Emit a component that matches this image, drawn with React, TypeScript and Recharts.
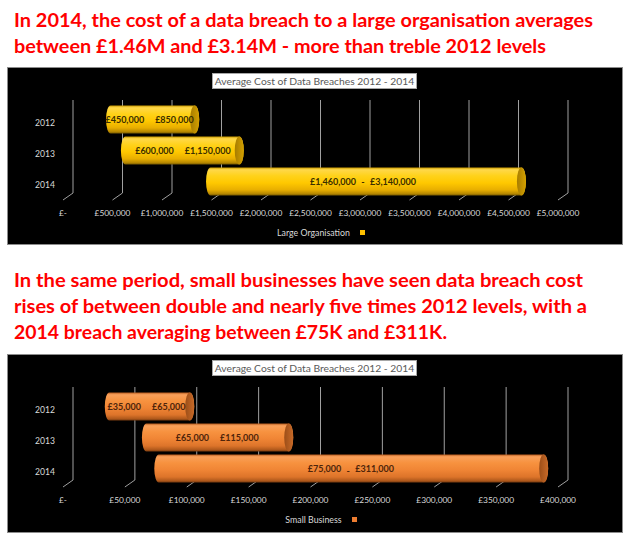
import React from 'react';
import { BarChart, Bar, XAxis, YAxis, CartesianGrid, Legend } from 'recharts';

// ---------- data ----------
const years = ['2012', '2013', '2014'];

const largeFrom = [450000, 600000, 1460000];
const largeSpan = [850000, 1150000, 3140000];
const largeTicks = [0, 500000, 1000000, 1500000, 2000000, 2500000, 3000000, 3500000, 4000000, 4500000, 5000000];

const smallFrom = [35000, 65000, 75000];
const smallSpan = [65000, 115000, 311000];
const smallTicks = [0, 50000, 100000, 150000, 200000, 250000, 300000, 350000, 400000];

const separators = ['', '', '-'];

const chartTitle = 'Average Cost of Data Breaches 2012 - 2014';
const largeName = 'Large Organisation';
const smallName = 'Small Business';

const headline1 = [
  'In 2014, the cost of a data breach to a large organisation averages',
  'between £1.46M and £3.14M - more than treble 2012 levels',
];
const headline2 = [
  'In the same period, small businesses have seen data breach cost',
  'rises of between double and nearly five times 2012 levels, with a',
  '2014 breach averaging between £75K and £311K.',
];

// ---------- helpers ----------
const fmt = (v: number) => (v === 0 ? '£-' : '£' + String(v).replace(/\B(?=(\d{3})+(?!\d))/g, ','));

const FONT = 'Lato, "Open Sans", sans-serif';

type Palette = {
  id: string;
  body: [number, string][];
  cap: [string, string];
  label: string;
  legend: string;
};

const gold: Palette = {
  id: 'gold',
  body: [
    [0, '#C99A00'],
    [0.08, '#FFD84A'],
    [0.3, '#FFD21A'],
    [0.55, '#FFC800'],
    [0.8, '#E8AE00'],
    [0.93, '#B88900'],
    [1, '#7A5B00'],
  ],
  cap: ['#A67C00', '#D4A000'],
  label: '#3A2E00',
  legend: '#FFC000',
};

const orange: Palette = {
  id: 'orange',
  body: [
    [0, '#B85C1E'],
    [0.08, '#F9A05A'],
    [0.3, '#F7923F'],
    [0.55, '#F08535'],
    [0.8, '#DD742A'],
    [0.93, '#B25A1C'],
    [1, '#7A3C10'],
  ],
  cap: ['#9C4E18', '#C86A28'],
  label: '#4E240A',
  legend: '#ED7D31',
};

const makeCylinder = (p: Palette, sepDy: number) => (props: any) => {
  const { x, y, width, height, payload } = props;
  if (width == null || width <= 0) return <g />;
  const rx = 4.5;
  const ry = height / 2;
  const x1 = x + width;
  const d = `M${x},${y} L${x1},${y} A${rx},${ry} 0 0 1 ${x1},${y + height} L${x},${y + height} A${rx},${ry} 0 0 1 ${x},${y} Z`;
  const gc = x + width / 2 - 3;
  const by = y + ry + 3.5;
  const gap = payload.sep ? 14 : 11;
  const tStyle = { fontFamily: FONT, fontSize: 9, fontWeight: 700, fill: p.label } as const;
  return (
    <g>
      <path d={d} fill={`url(#${p.id}-body)`} />
      <ellipse cx={x1} cy={y + ry} rx={rx} ry={ry} fill={`url(#${p.id}-cap)`} />
      <text x={gc - gap / 2} y={by} textAnchor="end" style={tStyle}>
        {fmt(payload.from)}
      </text>
      {payload.sep ? (
        <text x={gc} y={by + sepDy} textAnchor="middle" style={tStyle}>
          {payload.sep}
        </text>
      ) : null}
      <text x={gc + gap / 2} y={by} textAnchor="start" style={tStyle}>
        {fmt(payload.span)}
      </text>
    </g>
  );
};

const renderGridLine = (props: any) => {
  const { x1, y1, y2, key } = props;
  const back = x1 + 7;
  const front = x1 - 3;
  return (
    <g key={key}>
      <line x1={back} y1={y1 - 3.5} x2={back} y2={y2 - 3.5} stroke="#A0A0A0" strokeWidth={1} />
      <line x1={back} y1={y2 - 3.5} x2={front} y2={y2 + 3.5} stroke="#A0A0A0" strokeWidth={1} />
    </g>
  );
};

const XTick = (props: any) => {
  const { x, y, payload } = props;
  return (
    <text x={x - 3} y={y + 11} textAnchor="middle" style={{ fontFamily: FONT, fontSize: 8.4, fill: '#D9D9D9' }}>
      {fmt(payload.value)}
    </text>
  );
};

const YTick = (props: any) => {
  const { x, y, payload } = props;
  return (
    <text x={x - 3} y={y + 7} textAnchor="end" style={{ fontFamily: FONT, fontSize: 8.6, fill: '#D9D9D9' }}>
      {payload.value}
    </text>
  );
};

type PanelProps = {
  top: number;
  height: number;
  from: number[];
  span: number[];
  ticks: number[];
  palette: Palette;
  name: string;
  sepDy: number;
};

const W = 616;

function Panel({ top, height, from, span, ticks, palette, name, sepDy }: PanelProps) {
  const rows = years.map((year, i) => ({ year, from: from[i], span: span[i], sep: separators[i] }));
  const max = ticks[ticks.length - 1];
  return (
    <div
      style={{
        position: 'absolute',
        left: 7,
        top,
        width: W,
        height,
        background: '#000',
        outline: '1px solid #8C8C8C',
        outlineOffset: -1,
      }}
    >
      <BarChart
        width={W}
        height={height}
        data={rows}
        layout="vertical"
        margin={{ top: 36.5, right: 62, bottom: height - 129.5 - 30, left: 0 }}
        barSize={28}
      >
        <defs>
          <linearGradient id={`${palette.id}-body`} x1="0" y1="0" x2="0" y2="1">
            {palette.body.map(([o, c]) => (
              <stop key={o} offset={o} stopColor={c} />
            ))}
          </linearGradient>
          <linearGradient id={`${palette.id}-cap`} x1="0" y1="0" x2="1" y2="0">
            <stop offset={0} stopColor={palette.cap[0]} />
            <stop offset={1} stopColor={palette.cap[1]} />
          </linearGradient>
        </defs>
        <CartesianGrid horizontal={false} vertical={renderGridLine} />
        <XAxis
          type="number"
          domain={[0, max]}
          ticks={ticks}
          interval={0}
          axisLine={false}
          tickLine={false}
          height={30}
          tick={XTick}
        />
        <YAxis
          type="category"
          dataKey="year"
          width={59}
          axisLine={false}
          tickLine={false}
          interval={0}
          tick={YTick}
        />
        <Legend
          layout="horizontal"
          verticalAlign="middle"
          align="center"
          wrapperStyle={{ top: 158, left: 0, width: 628, height: 14 }}
          content={() => (
            <div
              style={{
                display: 'flex',
                justifyContent: 'center',
                alignItems: 'center',
                height: 14,
                fontFamily: FONT,
                fontSize: 8.8,
                color: '#D9D9D9',
              }}
            >
              <span>{name}</span>
              <span style={{ display: 'inline-block', width: 5, height: 5, marginLeft: 10, background: palette.legend }} />
            </div>
          )}
        />
        <Bar dataKey="from" stackId="a" fill="none" isAnimationActive={false} legendType="none" />
        <Bar
          dataKey="span"
          stackId="a"
          name={name}
          fill={palette.legend}
          isAnimationActive={false}
          shape={makeCylinder(palette, sepDy)}
        />
      </BarChart>
      <div
        style={{
          position: 'absolute',
          left: 205,
          top: 6,
          width: 205,
          height: 16,
          background: '#fff',
          outline: '1px solid #A6A6A6',
          outlineOffset: -1,
          fontFamily: FONT,
          fontSize: 10.3,
          lineHeight: '16px',
          color: '#595959',
          textAlign: 'center',
          whiteSpace: 'nowrap',
        }}
      >
        {chartTitle}
      </div>
    </div>
  );
}

const headStyle = { fontFamily: FONT, fontSize: 19.5, fontWeight: 700, fill: '#FF0000' } as const;

export default function App() {
  const h1Widths = [579, 532];
  const h1Base = [27, 53];
  const h2Widths = [569, 573, 433];
  const h2Base = [287, 313, 339];
  return (
    <div style={{ position: 'absolute', left: 0, top: 0, width: 624, height: 533, background: '#fff', overflow: 'hidden' }}>
      <svg width={624} height={533} style={{ position: 'absolute', left: 0, top: 0 }}>
        {headline1.map((t, i) => (
          <text key={t} x={14} y={h1Base[i]} textLength={h1Widths[i]} lengthAdjust="spacingAndGlyphs" style={headStyle}>
            {t}
          </text>
        ))}
        {headline2.map((t, i) => (
          <text key={t} x={14} y={h2Base[i]} textLength={h2Widths[i]} lengthAdjust="spacingAndGlyphs" style={headStyle}>
            {t}
          </text>
        ))}
      </svg>
      <Panel top={67} height={178} from={largeFrom} span={largeSpan} ticks={largeTicks} palette={gold} name={largeName} sepDy={0} />
      <Panel top={354} height={179} from={smallFrom} span={smallSpan} ticks={smallTicks} palette={orange} name={smallName} sepDy={2} />
    </div>
  );
}
